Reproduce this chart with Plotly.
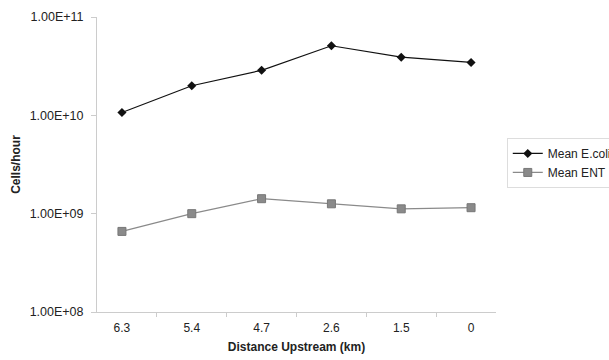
import plotly.graph_objects as go

categories = ["6.3", "5.4", "4.7", "2.6", "1.5", "0"]
ecoli = [1.07e10, 2.0e10, 2.87e10, 5.1e10, 3.9e10, 3.45e10]
ent = [6.6e8, 1.0e9, 1.42e9, 1.26e9, 1.12e9, 1.15e9]
ytick_vals = [1e8, 1e9, 1e10, 1e11]
ytick_text = ["1.00E+08", "1.00E+09", "1.00E+10", "1.00E+11"]

fig = go.Figure()
fig.add_trace(go.Scatter(x=categories, y=ecoli, mode="lines+markers", name="Mean E.coli",
                         line=dict(color="#111111", width=1.2),
                         marker=dict(symbol="diamond", size=7, color="#111111")))
fig.add_trace(go.Scatter(x=categories, y=ent, mode="lines+markers", name="Mean ENT",
                         line=dict(color="#8a8a8a", width=1.2),
                         marker=dict(symbol="square", size=8, color="#8a8a8a",
                                     line=dict(color="#777777", width=1))))

fig.update_layout(
    width=609, height=360,
    margin=dict(l=97, r=113, t=17, b=48, autoexpand=False),
    paper_bgcolor="white", plot_bgcolor="white",
    font=dict(family="Liberation Sans, Arial, sans-serif", size=12, color="#222222"),
    showlegend=True,
    legend=dict(x=1.027, y=0.59, xanchor="left", yanchor="top",
                bordercolor="#dddddd", borderwidth=1, bgcolor="white",
                font=dict(size=12), itemwidth=30, tracegroupgap=0),
)
fig.update_xaxes(type="category", showline=True, linecolor="#cccccc", linewidth=1,
                 ticks="outside", tickson="boundaries", ticklen=4, tickcolor="#cccccc",
                 showgrid=False, tickfont=dict(size=12), ticklabelstandoff=5,
                 title=dict(text="<b>Distance Upstream (km)</b>", font=dict(size=12), standoff=8))
fig.update_yaxes(type="log", range=[8, 11], showline=True, linecolor="#cccccc", linewidth=1,
                 ticks="outside", ticklen=5, tickcolor="#cccccc", showgrid=False,
                 tickvals=ytick_vals, ticktext=ytick_text, tickfont=dict(size=12.5),
                 ticklabelstandoff=5,
                 title=dict(text="<b>Cells/hour</b>", font=dict(size=12), standoff=6))

fig.write_html("out.html", config={"displayModeBar": False},
               post_script="document.body.style.margin='0';")
